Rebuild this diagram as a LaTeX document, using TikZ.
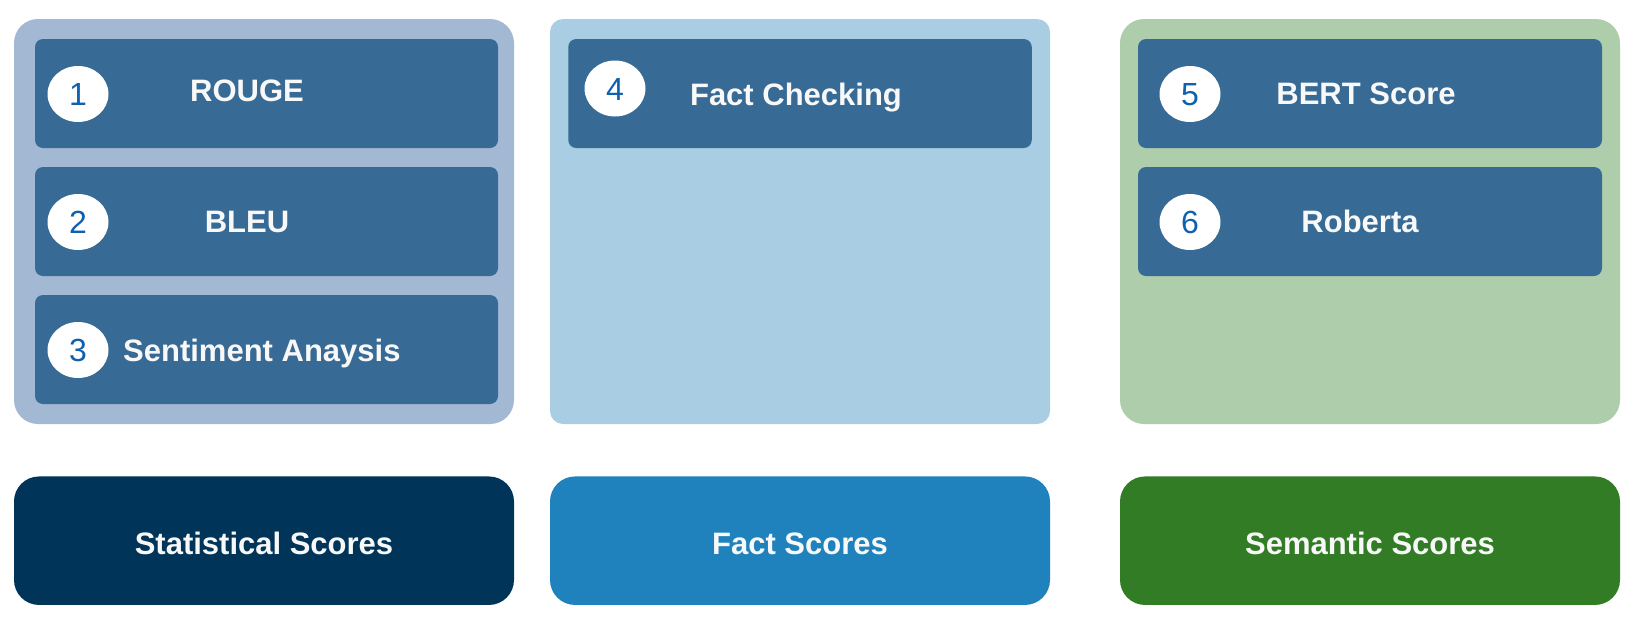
\documentclass[tikz,border=0pt]{standalone}
\usepackage{fontspec}
\setmainfont{Liberation Sans}
\usetikzlibrary{shapes.geometric}
\definecolor{contA}{HTML}{A3B8D3}
\definecolor{contB}{HTML}{A9CEE4}
\definecolor{contC}{HTML}{AECDAB}
\definecolor{inner}{HTML}{376A94}
\definecolor{botA}{HTML}{003559}
\definecolor{botB}{HTML}{1F82BD}
\definecolor{botC}{HTML}{317C24}
\definecolor{digit}{HTML}{1060B0}
\definecolor{txt}{HTML}{F8F8F8}
\tikzset{
  container/.style={rectangle, inner sep=0pt, minimum width=500pt, minimum height=405pt},
  itembox/.style={rectangle, fill=inner, rounded corners=8pt, inner sep=0pt, minimum width=464pt, minimum height=109pt},
  numc/.style={ellipse, fill=white, inner sep=0pt, minimum width=61pt, minimum height=56pt,
    text height=23pt, text depth=0pt, text=digit, font=\fontsize{32}{36}\selectfont},
  lbl/.style={inner sep=0pt, text height=22pt, text depth=0pt, text=txt, font=\fontsize{31}{36}\selectfont\bfseries},
  bottombox/.style={rectangle, rounded corners=25pt, inner sep=0pt, minimum width=500pt, minimum height=128.5pt,
    text height=28.5pt, text depth=0pt, text=txt, font=\fontsize{31}{36}\selectfont\bfseries},
}
\begin{document}
\begin{tikzpicture}[x=1pt,y=-1pt]
\path[use as bounding box] (0,0) rectangle (1642,625);
% containers
\node[container, fill=contA, rounded corners=24pt] (cA) at (264,221.5) {};
\node[container, fill=contB, rounded corners=13pt] (cB) at (800,221.5) {};
\node[container, fill=contC, rounded corners=24pt] (cC) at (1370,221.5) {};
% inner boxes
\node[itembox, minimum width=463pt] (b1) at (266.5,93.5) {};
\node[itembox, minimum width=463pt] (b2) at (266.5,221.5) {};
\node[itembox, minimum width=463pt] (b3) at (266.5,349.5) {};
\node[itembox, minimum width=463.5pt] (b4) at (800,93.5) {};
\node[itembox] (b5) at (1370,93.5) {};
\node[itembox] (b6) at (1370,221.5) {};
% number circles
\node[numc] (n1) at (78,94) {1};
\node[numc] (n2) at (78,222) {2};
\node[numc] (n3) at (78,350) {3};
\node[numc] (n4) at (615,88.5) {4};
\node[numc] (n5) at (1190,94) {5};
\node[numc] (n6) at (1190,222) {6};
% labels
\node[lbl] (t1) at (247,90.5) {ROUGE};
\node[lbl] (t2) at (247,221) {BLEU};
\node[lbl, anchor=west] (t3) at (123,350.5) {Sentiment Anaysis};
\node[lbl] (t4) at (796,94) {Fact Checking};
\node[lbl] (t5) at (1366,93.5) {BERT Score};
\node[lbl] (t6) at (1360,221) {Roberta};
% bottom boxes
\node[bottombox, fill=botA] (sA) at (264,540.7) {Statistical Scores};
\node[bottombox, fill=botB] (sB) at (800,540.7) {Fact Scores};
\node[bottombox, fill=botC] (sC) at (1370,540.7) {Semantic Scores};
\end{tikzpicture}
\end{document}
